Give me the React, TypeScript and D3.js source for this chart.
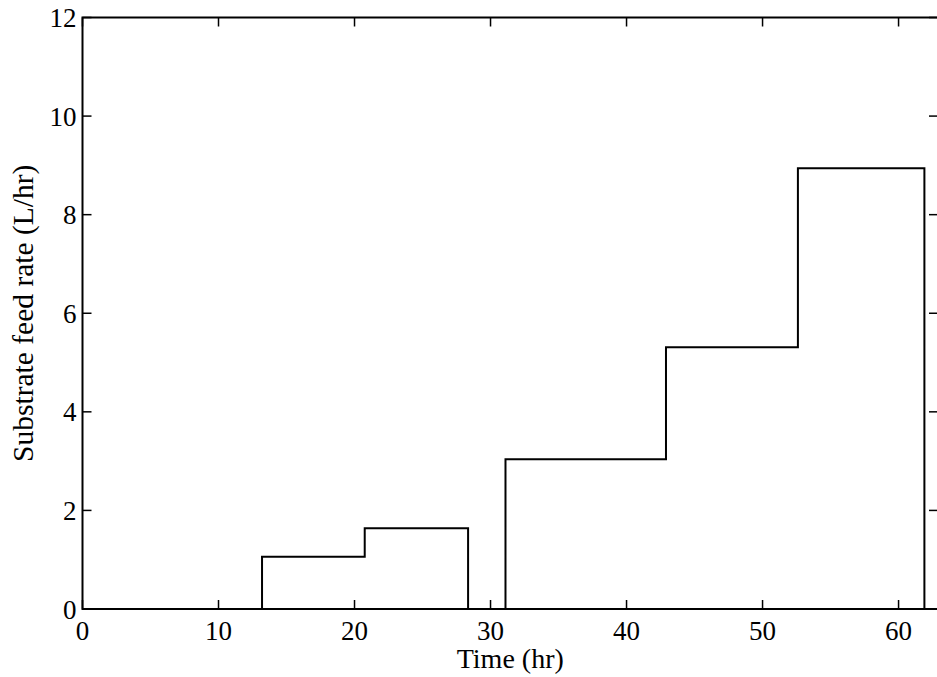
import React from "react";
import * as d3 from "d3";

const times = [0, 13.2, 20.75, 28.35, 31.1, 42.9, 52.6, 61.9, 62.9];
const rates = [0, 1.06, 1.64, 0, 3.04, 5.31, 8.94, 0, 0];
const xTicks = [0, 10, 20, 30, 40, 50, 60];
const yTicks = [0, 2, 4, 6, 8, 10, 12];
const xLabel = "Time (hr)";
const yLabel = "Substrate feed rate (L/hr)";

const W = 937;
const H = 677;
const left = 82.5;
const right = 938;
const top = 17.5;
const bottom = 609;

export default function App() {
  const x = d3.scaleLinear().domain([0, 62.9]).range([left, right]);
  const y = d3.scaleLinear().domain([0, 12]).range([bottom, top]);
  const pts = times.map((t, i) => [t, rates[i]] as [number, number]);
  const line = d3
    .line<[number, number]>()
    .x((d) => x(d[0]))
    .y((d) => y(d[1]))
    .curve(d3.curveStepAfter);
  const font = "'Liberation Serif', 'Times New Roman', serif";
  const tl = 9;
  return (
    <svg
      width={W}
      height={H}
      style={{ position: "absolute", left: 0, top: 0, background: "#fff" }}
    >
      <rect x={0} y={0} width={W} height={H} fill="#fff" />
      <rect
        x={left}
        y={top}
        width={right - left}
        height={bottom - top}
        fill="none"
        stroke="#000"
        strokeWidth={2}
      />
      {xTicks.map((t) => (
        <g key={"x" + t}>
          <line x1={x(t)} x2={x(t)} y1={bottom} y2={bottom - tl} stroke="#000" strokeWidth={1.5} />
          <line x1={x(t)} x2={x(t)} y1={top} y2={top + tl} stroke="#000" strokeWidth={1.5} />
          <text
            x={x(t)}
            y={639.5}
            textAnchor="middle"
            fontFamily={font}
            fontSize={27}
            fill="#000"
          >
            {t}
          </text>
        </g>
      ))}
      {yTicks.map((t) => (
        <g key={"y" + t}>
          <line x1={left} x2={left + tl} y1={y(t)} y2={y(t)} stroke="#000" strokeWidth={1.5} />
          <line x1={right - tl} x2={right} y1={y(t)} y2={y(t)} stroke="#000" strokeWidth={1.5} />
          <text
            x={76.5}
            y={y(t) + 9.5}
            textAnchor="end"
            fontFamily={font}
            fontSize={27}
            fill="#000"
          >
            {t}
          </text>
        </g>
      ))}
      <path d={line(pts) || ""} fill="none" stroke="#000" strokeWidth={2} />
      <text
        x={(left + right) / 2}
        y={668}
        textAnchor="middle"
        fontFamily={font}
        fontSize={28}
        fill="#000"
      >
        {xLabel}
      </text>
      <text
        transform={`translate(33, ${(top + bottom) / 2}) rotate(-90)`}
        textAnchor="middle"
        fontFamily={font}
        fontSize={29.5}
        fill="#000"
      >
        {yLabel}
      </text>
    </svg>
  );
}
